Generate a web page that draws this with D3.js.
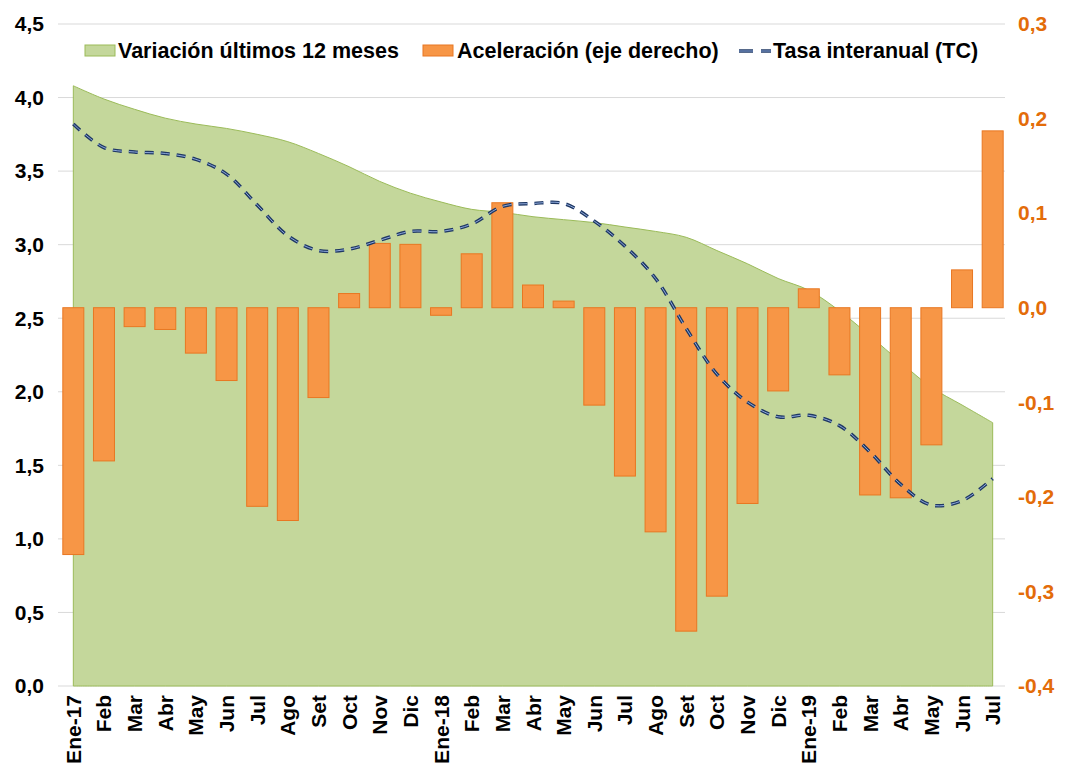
<!DOCTYPE html>
<html><head><meta charset="utf-8">
<script src="https://cdn.jsdelivr.net/npm/d3@7"></script>
<style>body{margin:0;background:#fff}svg{display:block}text{font-family:"Liberation Sans",Arial,sans-serif;font-weight:bold}</style>
</head><body><svg id="c" width="1065" height="770"></svg>
<script>
const categories = ["Ene-17","Feb","Mar","Abr","May","Jun","Jul","Ago","Set","Oct","Nov","Dic",
  "Ene-18","Feb","Mar","Abr","May","Jun","Jul","Ago","Set","Oct","Nov","Dic",
  "Ene-19","Feb","Mar","Abr","May","Jun","Jul"];
const variacion12 = [4.08,3.99,3.92,3.86,3.82,3.79,3.75,3.70,3.62,3.53,3.43,3.35,
  3.29,3.24,3.22,3.19,3.17,3.15,3.12,3.09,3.05,2.96,2.87,2.77,
  2.69,2.55,2.38,2.20,2.03,1.91,1.79];
const aceleracion = [-0.261,-0.162,-0.020,-0.023,-0.048,-0.077,-0.210,-0.225,-0.095,0.015,0.068,0.067,
  -0.008,0.057,0.111,0.024,0.007,-0.103,-0.178,-0.237,-0.342,-0.305,-0.207,-0.088,
  0.020,-0.071,-0.198,-0.201,-0.145,0.040,0.187];
const tasaInteranual = [3.82,3.66,3.63,3.62,3.58,3.48,3.27,3.06,2.96,2.97,3.03,3.09,
  3.09,3.14,3.26,3.28,3.28,3.16,2.99,2.77,2.43,2.12,1.93,1.83,
  1.84,1.77,1.59,1.37,1.23,1.26,1.41];
const leftTicks = [0,0.5,1,1.5,2,2.5,3,3.5,4,4.5];
const rightTicks = [-0.4,-0.3,-0.2,-0.1,0,0.1,0.2,0.3];
const legendLabels = ["Variación últimos 12 meses","Aceleración (eje derecho)","Tasa interanual (TC)"];

const svg = d3.select("#c");
const idx = categories.map((d,i)=>i);
const x = d3.scalePoint().domain(idx).range([58,1008]).padding(0.5);
const yL = d3.scaleLinear().domain([0,4.5]).range([686,24]);
const yR = d3.scaleLinear().domain([-0.4,0.3]).range([686,24]);
const fmt = d => d3.format(".1f")(d).replace(".",",").replace("−","-");

// gridlines
svg.append("g").selectAll("line").data(leftTicks).join("line")
  .attr("x1",58).attr("x2",1005).attr("y1",d=>yL(d)).attr("y2",d=>yL(d))
  .attr("stroke","#d9d9d9").attr("stroke-width",1);

// area
const curve = d3.curveCatmullRom.alpha(0.5);
const area = d3.area().x((d,i)=>x(i)).y0(yL(0)).y1(d=>yL(d)).curve(curve);
svg.append("path").datum(variacion12).attr("d",area)
  .attr("fill","#c4d79b").attr("stroke","#9bbb59").attr("stroke-width",1);

// bars
const bw = 21;
svg.append("g").selectAll("rect").data(aceleracion).join("rect")
  .attr("x",(d,i)=>x(i)-bw/2).attr("width",bw)
  .attr("y",d=>Math.min(yR(d),yR(0))).attr("height",d=>Math.abs(yR(d)-yR(0)))
  .attr("fill","#f79646").attr("stroke","#e87722").attr("stroke-width",1);

// line
const line = d3.line().x((d,i)=>x(i)).y(d=>yL(d)).curve(curve);
svg.append("path").datum(tasaInteranual).attr("d",line)
  .attr("fill","none").attr("stroke","#1f3864").attr("stroke-width",3.5).attr("stroke-dasharray","9,7");
svg.append("path").datum(tasaInteranual).attr("d",line)
  .attr("fill","none").attr("stroke","#8ea9db").attr("stroke-width",1).attr("stroke-dasharray","9,7");

// left axis labels
svg.append("g").selectAll("text").data(leftTicks).join("text")
  .attr("x",44).attr("y",d=>yL(d)).attr("dy","0.35em").attr("text-anchor","end")
  .attr("font-size",21).attr("fill","#000").text(fmt);
// right axis labels
svg.append("g").selectAll("text").data(rightTicks).join("text")
  .attr("x",1018).attr("y",d=>yR(d)).attr("dy","0.35em").attr("text-anchor","start")
  .attr("font-size",21).attr("fill","#e36c09").text(fmt);
// x labels
svg.append("g").selectAll("text").data(categories).join("text")
  .attr("transform",(d,i)=>`translate(${x(i)+7.5},695) rotate(-90)`)
  .attr("text-anchor","end").attr("font-size",21).attr("fill","#000").text(d=>d);

// legend
const lg = svg.append("g");
lg.append("rect").attr("x",85).attr("y",45).attr("width",30).attr("height",11)
  .attr("fill","#c4d79b").attr("stroke","#9bbb59");
lg.append("text").attr("x",118).attr("y",58).attr("font-size",21.5).text(legendLabels[0]);
lg.append("rect").attr("x",423).attr("y",45).attr("width",30).attr("height",11)
  .attr("fill","#f79646").attr("stroke","#e87722");
lg.append("text").attr("x",457).attr("y",58).attr("font-size",21.5).text(legendLabels[1]);
[[739,753],[761,771]].forEach(([a,b])=>{
  lg.append("line").attr("x1",a).attr("x2",b).attr("y1",51).attr("y2",51).attr("stroke","#1f3864").attr("stroke-width",3.5);
  lg.append("line").attr("x1",a).attr("x2",b).attr("y1",51).attr("y2",51).attr("stroke","#8ea9db").attr("stroke-width",1);
});
lg.append("text").attr("x",773).attr("y",58).attr("font-size",21.5).text(legendLabels[2]);
</script></body></html>
